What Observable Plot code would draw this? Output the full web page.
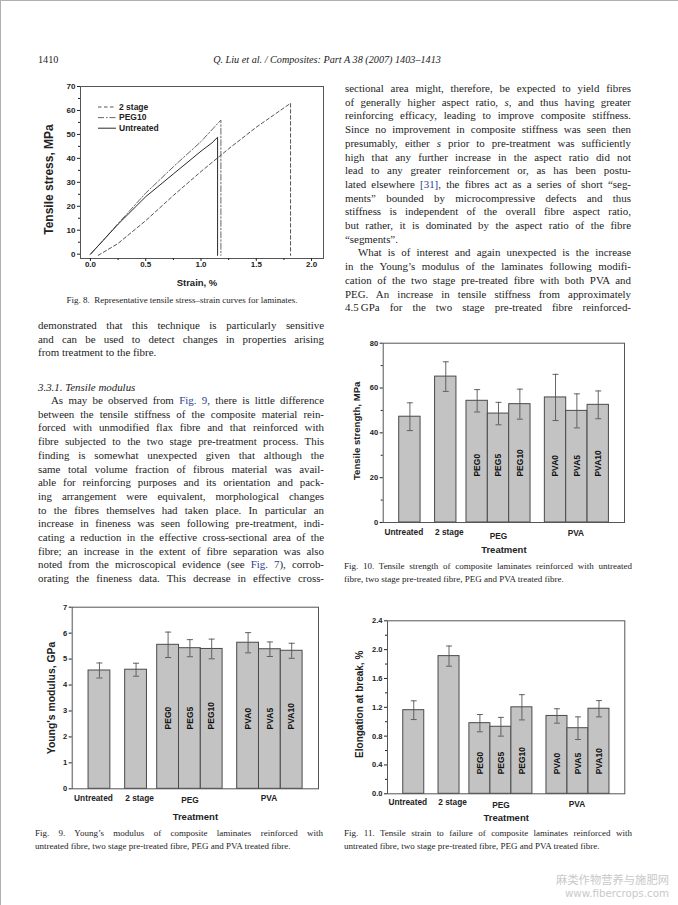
<!DOCTYPE html>
<html><head><meta charset="utf-8">
<script src="https://cdn.jsdelivr.net/npm/d3@7"></script>
<script src="https://cdn.jsdelivr.net/npm/@observablehq/plot@0.6"></script>
<style>
html,body{margin:0;padding:0;background:#fff;}
#page{position:relative;width:678px;height:905px;overflow:hidden;background:#fff;border-top:1px solid #b0b0b0;border-left:1px solid #b0b0b0;box-sizing:border-box;}
.ln{position:absolute;white-space:nowrap;font-family:"Liberation Serif","Times New Roman",serif;font-size:10.9px;color:#1c1c1c;line-height:13px;}
.cap{font-size:9px;line-height:11px;}
.hd{font-size:10.2px;}
.it{font-style:italic;}
.lnk{color:#2b3d8f;}
.wm{position:absolute;white-space:nowrap;color:#c9c9c9;line-height:12px;}
svg{position:absolute;overflow:visible;}
</style>
</head><body><div id="page"></div>
<script>
// ---------- data ----------
const categories = ["Untreated","2 stage","PEG0","PEG5","PEG10","PVA0","PVA5","PVA10"];
const groupOf    = ["Untreated","2 stage","PEG","PEG","PEG","PVA","PVA","PVA"];
const barLabels  = ["","","PEG0","PEG5","PEG10","PVA0","PVA5","PVA10"];
const modulus       = [4.56, 4.59, 5.55, 5.42, 5.39, 5.63, 5.38, 5.32];
const modulusErr    = [0.29, 0.25, 0.49, 0.33, 0.38, 0.39, 0.28, 0.29];
const strength      = [47.2, 65.1, 54.3, 48.6, 52.8, 55.8, 49.8, 52.5];
const strengthErr   = [6.2, 6.6, 5.0, 5.0, 6.7, 10.3, 7.6, 6.2];
const elongation    = [1.16, 1.91, 0.98, 0.93, 1.20, 1.08, 0.91, 1.18];
const elongationErr = [0.13, 0.14, 0.12, 0.13, 0.175, 0.10, 0.157, 0.113];

const strainUntreated = [0, 0.1, 0.25, 0.5, 0.75, 1.0, 1.1, 1.15, 1.15];
const stressUntreated = [0, 5.0, 12.5, 24.0, 33.5, 43.0, 46.5, 48.8, -0.5];
const strainPEG10 = [0, 0.1, 0.25, 0.5, 0.75, 1.0, 1.18, 1.18];
const stressPEG10 = [0, 5.0, 12.8, 25.5, 36.5, 47.0, 56.0, -0.5];
const strain2stage = [0.07, 0.25, 0.5, 0.75, 1.0, 1.25, 1.5, 1.81, 1.81];
const stress2stage = [-0.5, 4.5, 14.0, 24.5, 34.5, 44.0, 53.0, 63.0, -0.5];
const curveNames = ["2 stage","PEG10","Untreated"];

const strainTicks = [0, 0.5, 1.0, 1.5, 2.0];
const stressTicks = [0, 10, 20, 30, 40, 50, 60, 70];

// ---------- layout ----------
const page = document.getElementById("page");
const groupStart = {"Untreated":0.75, "2 stage":2.43, "PEG":3.9, "PVA":7.57};
const groupLabelShift = {"Untreated":-6, "2 stage":3.5, "PEG":0, "PVA":-1};
const centers = (() => { const seen = {}; return groupOf.map(g => { seen[g] = (seen[g] ?? -1) + 1; return groupStart[g] + seen[g] + 0.5; }); })();
const LH = 13;
const FONT = "Liberation Sans, Arial, sans-serif";

function place(x, yc, w, html, opts = {}) {
  const d = document.createElement("div");
  d.className = "ln" + (opts.cls ? " " + opts.cls : "");
  const lh = opts.lh || LH;
  d.style.left = x + "px"; d.style.top = (yc - lh / 2 - 0.5) + "px";
  if (opts.lh) d.style.lineHeight = lh + "px";
  const s = document.createElement("span"); s.innerHTML = html; d.appendChild(s);
  page.appendChild(d);
  const nat = s.getBoundingClientRect().width;
  if (opts.justify) {
    const n = (s.textContent.match(/ /g) || []).length;
    if (n) d.style.wordSpacing = ((w - nat) / n) + "px";
  } else if (opts.center) {
    d.style.left = (x - nat / 2) + "px";
  }
}
function block(x, y0, w, step, lines, cls, lh) {
  lines.forEach((l, i) => {
    const [t, j, indent] = l;
    place(x + (indent || 0), y0 + i * step, w - (indent || 0), t, {justify: j, cls, lh});
  });
}

// header
place(37, 59, 0, "1410", {cls: "hd"});
place(326, 59, 0, "Q. Liu et al. / Composites: Part A 38 (2007) 1403–1413", {center: true, cls: "it hd"});

// right column top text
block(344, 88, 286, 13.7, [
  ["sectional area might, therefore, be expected to yield fibres", true],
  ["of generally higher aspect ratio, <i>s</i>, and thus having greater", true],
  ["reinforcing efficacy, leading to improve composite stiffness.", true],
  ["Since no improvement in composite stiffness was seen then", true],
  ["presumably, either <i>s</i> prior to pre-treatment was sufficiently", true],
  ["high that any further increase in the aspect ratio did not", true],
  ["lead to any greater reinforcement or, as has been postu-", true],
  ["lated elsewhere <span class='lnk'>[31]</span>, the fibres act as a series of short “seg-", true],
  ["ments” bounded by microcompressive defects and thus", true],
  ["stiffness is independent of the overall fibre aspect ratio,", true],
  ["but rather, it is dominated by the aspect ratio of the fibre", true],
  ["“segments”.", false],
  ["What is of interest and again unexpected is the increase", true, 13],
  ["in the Young’s modulus of the laminates following modifi-", true],
  ["cation of the two stage pre-treated fibre with both PVA and", true],
  ["PEG. An increase in tensile stiffness from approximately", true],
  ["4.5\u2009GPa for the two stage pre-treated fibre reinforced-", true]
]);

// left column text
block(37, 325, 286, 13.7, [
  ["demonstrated that this technique is particularly sensitive", true],
  ["and can be used to detect changes in properties arising", true],
  ["from treatment to the fibre.", false]
]);
place(37, 387, 0, "3.3.1. Tensile modulus", {cls: "it"});
block(37, 400, 286, 13.7, [
  ["As may be observed from <span class='lnk'>Fig. 9</span>, there is little difference", true, 13],
  ["between the tensile stiffness of the composite material rein-", true],
  ["forced with unmodified flax fibre and that reinforced with", true],
  ["fibre subjected to the two stage pre-treatment process. This", true],
  ["finding is somewhat unexpected given that although the", true],
  ["same total volume fraction of fibrous material was avail-", true],
  ["able for reinforcing purposes and its orientation and pack-", true],
  ["ing arrangement were equivalent, morphological changes", true],
  ["to the fibres themselves had taken place. In particular an", true],
  ["increase in fineness was seen following pre-treatment, indi-", true],
  ["cating a reduction in the effective cross-sectional area of the", true],
  ["fibre; an increase in the extent of fibre separation was also", true],
  ["noted from the microscopical evidence (see <span class='lnk'>Fig. 7</span>), corrob-", true],
  ["orating the fineness data. This decrease in effective cross-", true]
]);

// captions
place(181, 300, 0, "Fig. 8.&nbsp; Representative tensile stress–strain curves for laminates.", {center: true, cls: "cap", lh: 11});
block(343, 566, 288, 13, [
  ["Fig. 10. Tensile strength of composite laminates reinforced with untreated", true],
  ["fibre, two stage pre-treated fibre, PEG and PVA treated fibre.", false]
], "cap", 11);
block(34, 833, 288, 13, [
  ["Fig. 9. Young’s modulus of composite laminates reinforced with", true],
  ["untreated fibre, two stage pre-treated fibre, PEG and PVA treated fibre.", false]
], "cap", 11);
block(343, 833, 288, 13, [
  ["Fig. 11. Tensile strain to failure of composite laminates reinforced with", true],
  ["untreated fibre, two stage pre-treated fibre, PEG and PVA treated fibre.", false]
], "cap", 11);

// watermark
(function () {
  const a = document.createElement("div"); a.className = "wm";
  a.style.fontFamily = "'Noto Sans CJK SC', sans-serif"; a.style.fontSize = "11.3px";
  a.textContent = "麻类作物营养与施肥网"; page.appendChild(a);
  a.style.left = (668 - a.getBoundingClientRect().width) + "px"; a.style.top = "871.5px";
  const b = document.createElement("div"); b.className = "wm";
  b.style.fontFamily = "'DejaVu Sans', sans-serif"; b.style.fontSize = "10.3px";
  b.textContent = "www.fibercrops.com"; page.appendChild(b);
  b.style.left = (668 - b.getBoundingClientRect().width) + "px"; b.style.top = "885.5px";
})();

// ---------- Fig. 8 ----------
(function () {
  const rows = [];
  strain2stage.forEach((s, i) => rows.push({k: "2 stage", x: s, y: stress2stage[i]}));
  strainPEG10.forEach((s, i) => rows.push({k: "PEG10", x: s, y: stressPEG10[i]}));
  strainUntreated.forEach((s, i) => rows.push({k: "Untreated", x: s, y: stressUntreated[i]}));
  const dash = {"2 stage": "3.5,2.5", "PEG10": "6,2,1.5,2", "Untreated": null};
  const col = {"2 stage": "#555", "PEG10": "#666", "Untreated": "#2a2a2a"};
  const svg = Plot.plot({
    width: 300, height: 218, marginLeft: 49, marginTop: 10, marginRight: 8, marginBottom: 36,
    x: {domain: [-0.09, 2.108], axis: null},
    y: {domain: [-1.8, 70], axis: null},
    style: {fontFamily: FONT, fontWeight: "bold", fontSize: "8px", color: "#222", background: "transparent"},
    marks: [
      ...curveNames.map(k => Plot.line(rows.filter(d => d.k === k), {x: "x", y: "y", stroke: col[k], strokeWidth: 1, strokeDasharray: dash[k]})),
      Plot.frame({stroke: "#555"}),
      Plot.axisY({ticks: stressTicks, tickSize: 3, tickPadding: 2, label: null}),
      Plot.axisY({ticks: stressTicks.slice(0, -1).map(v => v + 5), tickSize: 2, tickFormat: () => "", label: null}),
      Plot.axisX({ticks: strainTicks, tickFormat: d3.format(".1f"), tickSize: 3, tickPadding: 0, label: null}),
      Plot.axisX({ticks: strainTicks.slice(0, -1).map(v => v + 0.25), tickSize: 2, tickFormat: () => "", label: null}),
      Plot.text(["Tensile stress, MPa"], {frameAnchor: "left", textAnchor: "middle", lineAnchor: "middle", rotate: -90, dx: -31, dy: 7, fontSize: 12, fill: "#222"}),
      Plot.text(["Strain, %"], {frameAnchor: "bottom", textAnchor: "middle", lineAnchor: "middle", dx: -5, dy: 24, fontSize: 9.5, fill: "#222"})
    ]
  });
  svg.style.left = "30px"; svg.style.top = "75px";
  const g = d3.select(svg).append("g").attr("text-anchor", "start");
  curveNames.forEach((k, i) => {
    const y = 31 + i * 10.6;
    g.append("line").attr("x1", 67).attr("x2", 85).attr("y1", y).attr("y2", y)
      .attr("stroke", col[k]).attr("stroke-width", 1).attr("stroke-dasharray", dash[k]);
    g.append("text").attr("x", 88).attr("y", y).attr("dy", "0.32em").attr("font-size", 8.5)
      .attr("text-anchor", "start").attr("fill", "#222").text(k);
  });
  page.appendChild(svg);
})();

// ---------- bar charts ----------
function barChart(o) {
  const rows = categories.map((c, i) => ({c, g: groupOf[i], x: centers[i], v: o.values[i], e: o.errs[i], lab: barLabels[i]}));
  const groups = d3.groups(rows, d => d.g).map(([g, r]) => ({label: g, x: d3.mean(r, d => d.x)}));
  const groupDy = {"Untreated": o.catDy, "2 stage": o.catDy, "PEG": o.pegDy, "PVA": o.pvaDy};
  const svg = Plot.plot({
    width: o.width, height: o.height, marginLeft: o.mL, marginTop: o.mT, marginRight: o.mR, marginBottom: o.mB,
    x: {domain: [0, 11.3], axis: null},
    y: {domain: o.yDomain, axis: null},
    style: {fontFamily: FONT, fontWeight: "bold", fontSize: "7.5px", color: "#222", background: "transparent"},
    marks: [
      Plot.rect(rows, {x1: d => d.x - 0.5, x2: d => d.x + 0.5, y1: 0, y2: "v", fill: "#c3c3c3", stroke: "#4a4a4a", strokeWidth: 1}),
      Plot.ruleX(rows, {x: "x", y1: d => d.v - d.e, y2: d => d.v + d.e, stroke: "#555", strokeWidth: 0.9}),
      Plot.link(rows, {x1: d => d.x - 0.14, x2: d => d.x + 0.14, y1: d => d.v + d.e, y2: d => d.v + d.e, stroke: "#555", strokeWidth: 0.9}),
      Plot.link(rows, {x1: d => d.x - 0.14, x2: d => d.x + 0.14, y1: d => d.v - d.e, y2: d => d.v - d.e, stroke: "#555", strokeWidth: 0.9}),
      Plot.text(rows.filter(d => d.lab), {x: "x", y: () => o.labelStart, text: "lab", rotate: -90, textAnchor: "start", lineAnchor: "middle", fontSize: 8.5, fill: "#111"}),
      Plot.frame({stroke: "#555"}),
      Plot.axisY({ticks: o.yTicks, tickFormat: o.fmt, tickSize: 3, tickPadding: 2, label: null}),
      ...(o.yMinor ? [Plot.axisY({ticks: o.yMinor, tickFormat: () => "", tickSize: 2, label: null})] : []),
      ...groups.map(gr => Plot.text([gr], {x: "x", text: "label", frameAnchor: "bottom", textAnchor: "middle", lineAnchor: "middle",
        dx: groupLabelShift[gr.label], dy: groupDy[gr.label], fontSize: 8.3, fill: "#222"})),
      Plot.text(["Treatment"], {frameAnchor: "bottom", textAnchor: "middle", lineAnchor: "middle", dy: o.treatDy, fontSize: 9.5, fill: "#222"}),
      Plot.text([o.ylabel], {frameAnchor: "left", textAnchor: "middle", lineAnchor: "middle", rotate: -90, dx: o.ylabDx, dy: o.ylabDy || 0, fontSize: o.ylabSize || 10, fill: "#222"})
    ]
  });
  svg.style.left = o.left + "px"; svg.style.top = o.top + "px";
  page.appendChild(svg);
}

barChart({values: strength, errs: strengthErr, left: 340, top: 332, width: 300, height: 225,
  mL: 41.7, mT: 9.7, mR: 17, mB: 36, yDomain: [0, 80], yTicks: [0, 20, 40, 60, 80], yMinor: [10, 30, 50, 70],
  fmt: d3.format("d"), ylabel: "Tensile strength, MPa", ylabDx: -26.7, ylabDy: -2, ylabSize: 9.6,
  labelStart: 20.5, catDy: 10, pegDy: 14, pvaDy: 11, treatDy: 27});

barChart({values: modulus, errs: modulusErr, left: 30, top: 597, width: 300, height: 228,
  mL: 40.7, mT: 8.7, mR: 13, mB: 37.7, yDomain: [0, 7], yTicks: [0, 1, 2, 3, 4, 5, 6, 7], yMinor: null,
  fmt: d3.format("d"), ylabel: "Young's modulus, GPa", ylabDx: -20.7, ylabDy: 0, ylabSize: 10.4,
  labelStart: 2.29, catDy: 9.4, pegDy: 11.7, pvaDy: 9.4, treatDy: 28.4});

barChart({values: elongation, errs: elongationErr, left: 340, top: 612, width: 300, height: 213,
  mL: 46, mT: 7.3, mR: 16.7, mB: 32.7, yDomain: [0, 2.4], yTicks: [0, 0.4, 0.8, 1.2, 1.6, 2.0, 2.4], yMinor: [0.2, 0.6, 1.0, 1.4, 1.8, 2.2],
  fmt: d3.format(".1f"), ylabel: "Elongation at break, %", ylabDx: -28, ylabDy: -3, ylabSize: 10,
  labelStart: 0.27, catDy: 8.4, pegDy: 11.7, pvaDy: 10.4, treatDy: 24.4});
</script>
</body></html>
